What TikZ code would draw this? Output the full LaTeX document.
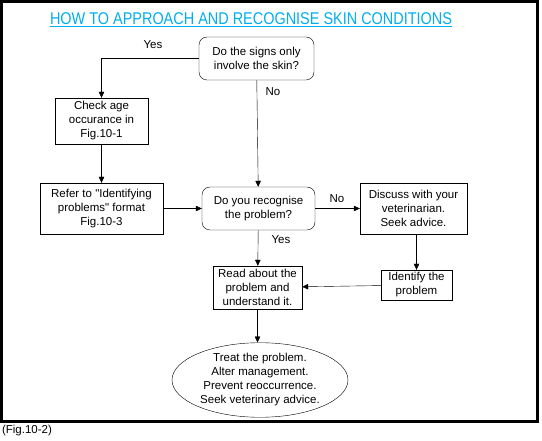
\documentclass[tikz,border=0pt]{standalone}
\usepackage{fontspec}
\setmainfont{Liberation Sans}
\usetikzlibrary{arrows.meta,shapes.geometric}
\definecolor{titleblue}{RGB}{0,174,239}

\begin{document}
\begin{tikzpicture}[x=1pt,y=-1pt,>={Triangle[length=6pt,width=5.5pt]},
    font=\fontsize{11.5}{14}\selectfont,
    box/.style={rectangle,draw,align=center,inner sep=1pt},
    ask/.style={rectangle,rounded corners=8pt,draw,align=center},
    lbl/.style={inner sep=0pt}]
    % Frame and bounding box
    \useasboundingbox (0,0) rectangle (542,441);
    \draw[line width=3pt] (1.5,1.5) rectangle (537.5,421.5);
    % Title
    \node (title) at (251,20) [titleblue,font=\fontsize{17}{19}\selectfont]
        {\scalebox{0.85}[1]{\underline{HOW TO APPROACH AND RECOGNISE SKIN CONDITIONS}}};
    % Nodes
    \node (signs) at (256.5,58.5) [ask,minimum width=115pt,minimum height=43pt]
        {Do the signs only\\involve the skin?};
    \node (check) at (101.5,121) [box,minimum width=93pt,minimum height=46pt]
        {Check age\\occurance in\\Fig.10-1};
    \node (refer) at (101.5,208.5) [box,minimum width=123pt,minimum height=51pt]
        {Refer to \textquotedbl Identifying\\problems\textquotedbl{} format\\Fig.10-3};
    \node (recog) at (258.5,208.5) [ask,minimum width=113pt,minimum height=43pt]
        {Do you recognise\\the problem?};
    \node (discuss) at (413.5,208.5) [box,minimum width=107pt,minimum height=51pt]
        {Discuss with your\\veterinarian.\\Seek advice.};
    \node (ident) at (416.5,285) [box,minimum width=71pt,minimum height=30pt]
        {Identify the\\problem};
    \node (read) at (257.5,287.5) [box,minimum width=89pt,minimum height=43pt]
        {Read about the\\problem and\\understand it.};
    \node (treat) at (260,380) [ellipse,draw,align=center,inner sep=0pt,
        minimum width=176pt,minimum height=74pt]
        {Treat the problem.\\Alter management.\\Prevent reoccurrence.\\Seek veterinary advice.};
    \node (fig) at (27,431) {(Fig.10-2)};
    % Labels
    \node (yes1) at (153,45) [lbl] {Yes};
    \node (no1) at (273,92) [lbl] {No};
    \node (no2) at (337,199) [lbl] {No};
    \node (yes2) at (281,240) [lbl] {Yes};
    % Edges
    \draw[->] (signs.west) -| (check.north);
    \path[->] (signs) edge (recog);
    \path[->] (check) edge (refer);
    \path[->] (refer) edge (recog);
    \path[->] (recog) edge (discuss);
    \path[->] (recog) edge (read);
    \path[->] (discuss.south -| ident) edge (ident);
    \path[->] (ident) edge (read);
    \path[->] (read) edge (read |- treat.north);
\end{tikzpicture}
\end{document}
